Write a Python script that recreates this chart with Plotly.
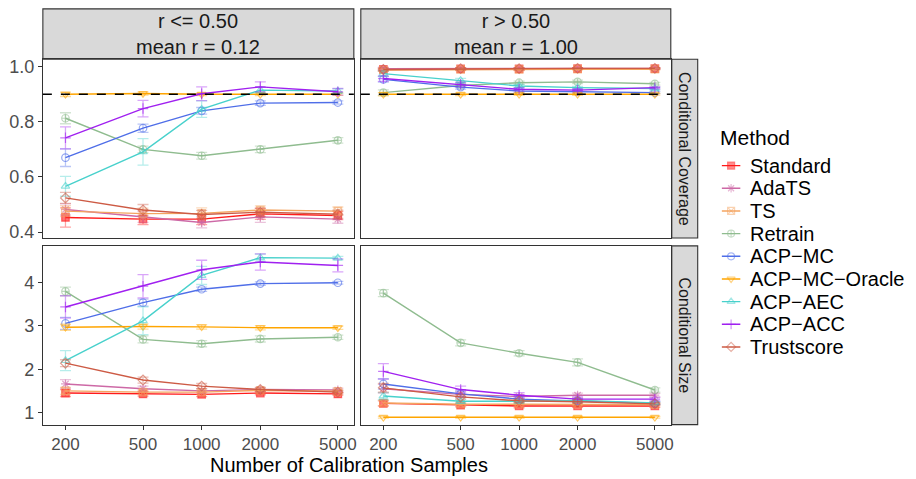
import plotly.graph_objects as go

# ---------------- data ----------------
n_calib = [200, 500, 1000, 2000, 5000]
x_ticks = ["200", "500", "1000", "2000", "5000"]
methods = ["Standard", "AdaTS", "TS", "Retrain", "ACP\u2212MC", "ACP\u2212MC\u2212Oracle",
           "ACP\u2212AEC", "ACP\u2212ACC", "Trustscore"]
strip_top = ["r <= 0.50<br>mean r = 0.12", "r > 0.50<br>mean r = 1.00"]
strip_right = ["Conditional Coverage", "Conditional Size"]
target_coverage = 0.9

cov_lo_mean = {
    "Standard": [0.453, 0.447, 0.447, 0.466, 0.460],
    "AdaTS": [0.482, 0.455, 0.435, 0.455, 0.447],
    "TS": [0.476, 0.467, 0.468, 0.480, 0.476],
    "Retrain": [0.813, 0.700, 0.677, 0.700, 0.733],
    "ACP\u2212MC": [0.670, 0.777, 0.840, 0.868, 0.870],
    "ACP\u2212MC\u2212Oracle": [0.900, 0.903, 0.900, 0.900, 0.900],
    "ACP\u2212AEC": [0.566, 0.691, 0.846, 0.915, 0.912],
    "ACP\u2212ACC": [0.742, 0.848, 0.902, 0.927, 0.909],
    "Trustscore": [0.524, 0.480, 0.464, 0.472, 0.465],
}
cov_lo_err = {
    "Standard": [0.035, 0.020, 0.020, 0.020, 0.015],
    "AdaTS": [0.020, 0.020, 0.020, 0.020, 0.015],
    "TS": [0.020, 0.020, 0.020, 0.015, 0.015],
    "Retrain": [0.020, 0.012, 0.012, 0.012, 0.010],
    "ACP\u2212MC": [0.032, 0.015, 0.012, 0.008, 0.006],
    "ACP\u2212MC\u2212Oracle": [0.008, 0.006, 0.005, 0.005, 0.004],
    "ACP\u2212AEC": [0.036, 0.048, 0.030, 0.010, 0.008],
    "ACP\u2212ACC": [0.040, 0.030, 0.025, 0.018, 0.012],
    "Trustscore": [0.020, 0.020, 0.015, 0.015, 0.015],
}
cov_hi_mean = {
    "Standard": [0.990, 0.992, 0.992, 0.993, 0.993],
    "AdaTS": [0.993, 0.993, 0.993, 0.994, 0.994],
    "TS": [0.988, 0.990, 0.990, 0.991, 0.991],
    "Retrain": [0.906, 0.932, 0.942, 0.945, 0.938],
    "ACP\u2212MC": [0.954, 0.926, 0.912, 0.909, 0.906],
    "ACP\u2212MC\u2212Oracle": [0.900, 0.900, 0.900, 0.900, 0.900],
    "ACP\u2212AEC": [0.975, 0.950, 0.930, 0.924, 0.921],
    "ACP\u2212ACC": [0.957, 0.936, 0.918, 0.915, 0.924],
    "Trustscore": [0.990, 0.993, 0.993, 0.994, 0.994],
}
cov_hi_err = {
    "Standard": [0.005, 0.004, 0.004, 0.003, 0.003],
    "AdaTS": [0.005, 0.004, 0.004, 0.003, 0.003],
    "TS": [0.005, 0.004, 0.004, 0.003, 0.003],
    "Retrain": [0.010, 0.007, 0.006, 0.006, 0.005],
    "ACP\u2212MC": [0.010, 0.007, 0.006, 0.005, 0.004],
    "ACP\u2212MC\u2212Oracle": [0.006, 0.005, 0.004, 0.004, 0.003],
    "ACP\u2212AEC": [0.010, 0.008, 0.006, 0.005, 0.004],
    "ACP\u2212ACC": [0.010, 0.008, 0.006, 0.005, 0.004],
    "Trustscore": [0.005, 0.004, 0.004, 0.003, 0.003],
}
size_lo_mean = {
    "Standard": [1.45, 1.43, 1.42, 1.45, 1.43],
    "AdaTS": [1.66, 1.55, 1.50, 1.53, 1.52],
    "TS": [1.50, 1.47, 1.47, 1.51, 1.49],
    "Retrain": [3.80, 2.69, 2.59, 2.70, 2.74],
    "ACP\u2212MC": [3.06, 3.54, 3.85, 3.98, 4.00],
    "ACP\u2212MC\u2212Oracle": [2.97, 2.99, 2.98, 2.96, 2.96],
    "ACP\u2212AEC": [2.20, 3.12, 4.17, 4.58, 4.57],
    "ACP\u2212ACC": [3.44, 3.92, 4.30, 4.48, 4.40],
    "Trustscore": [2.14, 1.75, 1.61, 1.53, 1.47],
}
size_lo_err = {
    "Standard": [0.08, 0.05, 0.05, 0.04, 0.03],
    "AdaTS": [0.10, 0.06, 0.05, 0.04, 0.04],
    "TS": [0.08, 0.05, 0.05, 0.04, 0.03],
    "Retrain": [0.10, 0.08, 0.07, 0.07, 0.05],
    "ACP\u2212MC": [0.14, 0.08, 0.05, 0.04, 0.03],
    "ACP\u2212MC\u2212Oracle": [0.07, 0.06, 0.05, 0.05, 0.04],
    "ACP\u2212AEC": [0.23, 0.32, 0.21, 0.08, 0.04],
    "ACP\u2212ACC": [0.26, 0.27, 0.22, 0.19, 0.15],
    "Trustscore": [0.08, 0.07, 0.06, 0.05, 0.04],
}
size_hi_mean = {
    "Standard": [1.21, 1.17, 1.15, 1.15, 1.15],
    "AdaTS": [1.55, 1.42, 1.37, 1.40, 1.40],
    "TS": [1.22, 1.19, 1.19, 1.19, 1.18],
    "Retrain": [3.76, 2.61, 2.37, 2.16, 1.52],
    "ACP\u2212MC": [1.66, 1.43, 1.31, 1.27, 1.21],
    "ACP\u2212MC\u2212Oracle": [0.89, 0.89, 0.89, 0.89, 0.89],
    "ACP\u2212AEC": [1.38, 1.26, 1.26, 1.28, 1.22],
    "ACP\u2212ACC": [1.95, 1.53, 1.40, 1.31, 1.31],
    "Trustscore": [1.57, 1.36, 1.27, 1.25, 1.20],
}
size_hi_err = {
    "Standard": [0.06, 0.04, 0.04, 0.03, 0.03],
    "AdaTS": [0.10, 0.06, 0.05, 0.05, 0.04],
    "TS": [0.06, 0.04, 0.04, 0.03, 0.03],
    "Retrain": [0.08, 0.07, 0.06, 0.08, 0.05],
    "ACP\u2212MC": [0.12, 0.07, 0.05, 0.04, 0.03],
    "ACP\u2212MC\u2212Oracle": [0.02, 0.02, 0.02, 0.02, 0.02],
    "ACP\u2212AEC": [0.08, 0.05, 0.04, 0.04, 0.03],
    "ACP\u2212ACC": [0.18, 0.08, 0.06, 0.05, 0.04],
    "Trustscore": [0.10, 0.05, 0.04, 0.04, 0.03],
}

# ---------------- style ----------------
colors = {
    "Standard": (255, 26, 26),
    "AdaTS": (205, 105, 166),
    "TS": (244, 164, 96),
    "Retrain": (143, 188, 143),
    "ACP\u2212MC": (79, 110, 232),
    "ACP\u2212MC\u2212Oracle": (255, 165, 0),
    "ACP\u2212AEC": (72, 209, 204),
    "ACP\u2212ACC": (160, 32, 240),
    "Trustscore": (205, 91, 69),
}
symbols = {
    "Standard": "square",
    "AdaTS": "asterisk-open",
    "TS": "square-x-open",
    "Retrain": "circle-cross-open",
    "ACP\u2212MC": "circle-open",
    "ACP\u2212MC\u2212Oracle": "triangle-down-open",
    "ACP\u2212AEC": "triangle-up-open",
    "ACP\u2212ACC": "cross-thin-open",
    "Trustscore": "diamond-open",
}

def rgba(c, a):
    return "rgba(%d,%d,%d,%.2f)" % (c[0], c[1], c[2], a)

FONT = "Liberation Sans, Arial, sans-serif"
W, H = 916, 479

def px_x(p):
    return p / W

def px_y(p):
    return 1 - p / H

fig = go.Figure()

panels = [
    ("x", "y", cov_lo_mean, cov_lo_err),
    ("x2", "y2", cov_hi_mean, cov_hi_err),
    ("x3", "y3", size_lo_mean, size_lo_err),
    ("x4", "y4", size_hi_mean, size_hi_err),
]

for xa, ya, means, errs in panels:
    for m in methods:
        c = colors[m]
        fig.add_trace(go.Scatter(
            x=n_calib, y=means[m], xaxis=xa, yaxis=ya, mode="lines+markers",
            name=m, showlegend=False,
            line=dict(color=rgba(c, 1.0), width=1.4),
            marker=dict(symbol=symbols[m], size=7.5, color=rgba(c, 0.6),
                        line=dict(width=1.2, color=rgba(c, 0.6))),
            error_y=dict(type="data", array=errs[m], color=rgba(c, 0.4),
                         thickness=1.3, width=5.5),
        ))

# manual legend (keys on a categorical helper axis)
for m in methods:
    c = colors[m]
    fig.add_trace(go.Scatter(
        x=[0, 0.5, 1], y=[m, m, m], xaxis="x5", yaxis="y5", mode="lines+markers",
        showlegend=False, hoverinfo="skip",
        line=dict(color=rgba(c, 1.0), width=1.4),
        marker=dict(symbol=symbols[m], size=[0, 7, 0], color=rgba(c, 0.7),
                    line=dict(width=1.2, color=rgba(c, 0.7))),
    ))

# panel geometry (pixels)
LX = (43, 355)
RX = (362, 673)
TY = (58, 239)
BY = (247, 428)

xr = [2.185, 3.781]
common_x = dict(type="log", range=xr, showline=True, mirror=True, linecolor="#333333",
                linewidth=1.1, showgrid=False, zeroline=False,
                tickvals=n_calib, ticktext=x_ticks,
                tickfont=dict(family=FONT, size=17, color="#4D4D4D"))
common_y = dict(showline=True, mirror=True, linecolor="#333333", linewidth=1.1,
                showgrid=False, zeroline=False,
                tickfont=dict(family=FONT, size=18, color="#4D4D4D"))

top_y = dict(range=[0.3785, 1.027], tickvals=[0.4, 0.6, 0.8, 1.0],
             ticktext=["0.4", "0.6", "0.8", "1.0"])
bot_y = dict(range=[0.719, 4.852], tickvals=[1, 2, 3, 4], ticktext=["1", "2", "3", "4"])

layout = dict(
    width=W, height=H, margin=dict(l=0, r=0, t=0, b=0),
    paper_bgcolor="white", plot_bgcolor="white", showlegend=False,
    font=dict(family=FONT),
    xaxis=dict(common_x, domain=[px_x(LX[0]), px_x(LX[1])], anchor="y",
               showticklabels=False, ticks=""),
    xaxis2=dict(common_x, domain=[px_x(RX[0]), px_x(RX[1])], anchor="y2",
                showticklabels=False, ticks=""),
    xaxis3=dict(common_x, domain=[px_x(LX[0]), px_x(LX[1])], anchor="y3",
                ticks="outside", ticklen=4, tickcolor="#333333", ticklabelstandoff=0),
    xaxis4=dict(common_x, domain=[px_x(RX[0]), px_x(RX[1])], anchor="y4",
                ticks="outside", ticklen=4, tickcolor="#333333", ticklabelstandoff=0),
    yaxis=dict(common_y, **top_y, domain=[px_y(TY[1]), px_y(TY[0])], anchor="x",
               ticks="outside", ticklen=4, tickcolor="#333333"),
    yaxis2=dict(common_y, **top_y, domain=[px_y(TY[1]), px_y(TY[0])], anchor="x2",
                showticklabels=False, ticks=""),
    yaxis3=dict(common_y, **bot_y, domain=[px_y(BY[1]), px_y(BY[0])], anchor="x3",
                ticks="outside", ticklen=4, tickcolor="#333333"),
    yaxis4=dict(common_y, **bot_y, domain=[px_y(BY[1]), px_y(BY[0])], anchor="x4",
                showticklabels=False, ticks=""),
    xaxis5=dict(domain=[px_x(724), px_x(743)], range=[0, 1], visible=False,
                anchor="y5", fixedrange=True),
    yaxis5=dict(domain=[px_y(360.8), px_y(154.2)], type="category",
                categoryarray=methods, range=[len(methods) - 0.5, -0.5],
                visible=False, anchor="x5", fixedrange=True),
)
fig.update_layout(**layout)

shapes = []
annotations = []
# top strips
for (x0, x1), label in zip([LX, RX], strip_top):
    shapes.append(dict(type="rect", xref="paper", yref="paper",
                       x0=px_x(x0), x1=px_x(x1), y0=px_y(TY[0]), y1=px_y(7),
                       fillcolor="#D9D9D9", line=dict(color="#333333", width=1.1),
                       layer="below"))
    annotations.append(dict(xref="paper", yref="paper", x=px_x((x0 + x1) / 2),
                            y=px_y(32), text=label, showarrow=False,
                            font=dict(family=FONT, size=20, color="#1A1A1A"),
                            xanchor="center", yanchor="middle"))
# right strips
for (y0, y1), label in zip([TY, BY], strip_right):
    shapes.append(dict(type="rect", xref="paper", yref="paper",
                       x0=px_x(674), x1=px_x(700), y0=px_y(y1), y1=px_y(y0),
                       fillcolor="#D9D9D9", line=dict(color="#333333", width=1.1),
                       layer="below"))
    annotations.append(dict(xref="paper", yref="paper", x=px_x(687),
                            y=px_y((y0 + y1) / 2), text=label, showarrow=False,
                            textangle=90,
                            font=dict(family=FONT, size=16, color="#1A1A1A"),
                            xanchor="center", yanchor="middle"))
# target coverage line
for xa, ya in [("x", "y"), ("x2", "y2")]:
    shapes.append(dict(type="line", xref=xa + " domain", yref=ya, x0=0, x1=1,
                       y0=target_coverage, y1=target_coverage,
                       line=dict(color="black", width=1.3, dash="dash"), layer="above"))

# axis title
annotations.append(dict(xref="paper", yref="paper", x=px_x(350), y=px_y(469),
                        text="Number of Calibration Samples", showarrow=False,
                        font=dict(family=FONT, size=20, color="black"),
                        xanchor="center", yanchor="middle", borderpad=0))
# legend title + labels
annotations.append(dict(xref="paper", yref="paper", x=px_x(720), y=px_y(137),
                        text="Method", showarrow=False,
                        font=dict(family=FONT, size=21, color="black"),
                        xanchor="left", yanchor="middle"))
for m in methods:
    annotations.append(dict(xref="paper", yref="y5", x=px_x(750), y=m,
                            text=m, showarrow=False,
                            font=dict(family=FONT, size=20, color="black"),
                            xanchor="left", yanchor="middle"))

fig.update_layout(shapes=shapes, annotations=annotations)
fig.write_html("out.html")
